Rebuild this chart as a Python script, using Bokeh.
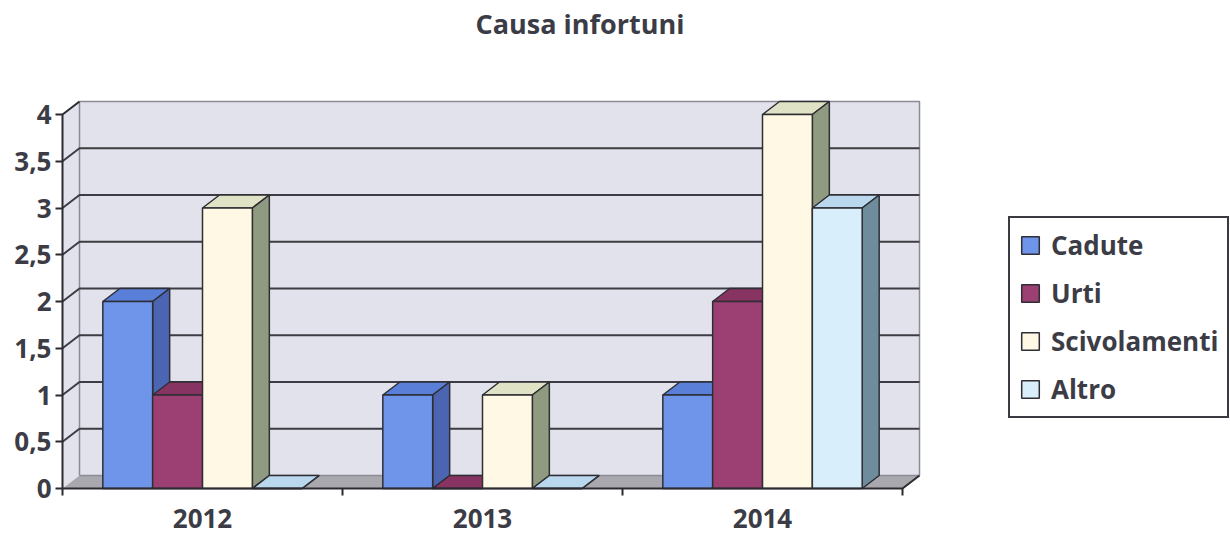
from bokeh.plotting import figure
from bokeh.models import Range1d, FixedTicker, Legend, LegendItem, Title
from bokeh.embed import file_html
from bokeh.resources import INLINE

# ---- data ----
categories = ["2012", "2013", "2014"]
series = ["Cadute", "Urti", "Scivolamenti", "Altro"]
cadute = [2, 1, 1]
urti = [1, 0, 2]
scivolamenti = [3, 1, 4]
altro = [0, 0, 3]
y_ticks = [0, 0.5, 1, 1.5, 2, 2.5, 3, 3.5, 4]
y_tick_labels = ["0", "0,5", "1", "1,5", "2", "2,5", "3", "3,5", "4"]
title_text = "Causa infortuni"

values = [cadute, urti, scivolamenti, altro]

# ---- styles ----
front_colors = ["#6e95ea", "#9c4074", "#fff8e4", "#d8eefa"]
top_colors = ["#5a7fd8", "#883463", "#dfe2c4", "#b9d8ee"]
side_colors = ["#4b65b2", "#6c2a50", "#8f9a80", "#6f8c9c"]
EDGE = "#2e2e34"
TEXT = "#3c3c46"
FONT = "Open Sans"

PXX = 280.0   # pixels per category
PXY = 93.5    # pixels per unit
DX = 17 / PXX
DY = 13 / PXY
PADL = 3 / PXX
PADR = 3 / PXX
PADB = 2 / PXY
PADT = 3 / PXY
YMAX = 4.0
n = len(categories)
BW = 0.178

fw = int(round((n + DX + PADL + PADR) * PXX))
fh = int(round((YMAX + DY + PADB + PADT) * PXY))

p = figure(title=None, frame_width=fw, frame_height=fh,
           x_range=Range1d(-PADL, n + DX + PADR),
           y_range=Range1d(-PADB, YMAX + DY + PADT),
           output_backend="svg", toolbar_location=None,
           min_border_left=59, min_border_right=1230 - 59 - fw,
           min_border_top=98, min_border_bottom=539 - 98 - fh)
p.outline_line_color = None
p.xgrid.visible = False
p.ygrid.visible = False
p.background_fill_color = "white"
p.border_fill_color = "white"

# ---- walls ----
p.patch([0, 0, DX, n + DX, n + DX, DX], [0, YMAX, YMAX + DY, YMAX + DY, DY, DY],
        fill_color="#e2e2ec", line_color=None)
p.patch([0, n, n + DX, DX], [0, 0, DY, DY], fill_color="#a8a8ae", line_color=None)
# wall edges
p.multi_line([[DX, DX], [DX, n + DX, n + DX], [DX, n + DX]],
             [[DY, YMAX + DY], [YMAX + DY, YMAX + DY, DY], [DY, DY]],
             line_color="#8c8c94", line_width=1.5)
# gridlines
gx, gy = [], []
for v in y_ticks[1:-1]:
    gx.append([0, DX, n + DX])
    gy.append([v, v + DY, v + DY])
p.multi_line(gx, gy, line_color="#3c3c42", line_width=2)

# ---- bars ----
items = []
for j, name in enumerate(series):
    fx, fy, tx, ty, sx, sy = [], [], [], [], [], []
    for i in range(n):
        h = values[j][i]
        x0 = i + 0.5 + (j - 2) * BW
        x1 = x0 + BW
        fx.append([x0, x1, x1, x0]); fy.append([0, 0, h, h])
        tx.append([x0, x1, x1 + DX, x0 + DX]); ty.append([h, h, h + DY, h + DY])
        sx.append([x1, x1 + DX, x1 + DX, x1]); sy.append([0, DY, h + DY, h])
    p.patches(tx, ty, fill_color=top_colors[j], line_color=EDGE, line_width=1.5)
    p.patches(sx, sy, fill_color=side_colors[j], line_color=EDGE, line_width=1.5)
    r = p.patches(fx, fy, fill_color=front_colors[j], line_color=EDGE, line_width=1.5)
    items.append(LegendItem(label=name, renderers=[r]))

# ---- axis lines ----
p.line([0, 0, DX], [0, YMAX, YMAX + DY], line_color="#2a2a30", line_width=2)
p.line([0, n, n + DX], [0, 0, DY], line_color="#2a2a30", line_width=2)

# ---- axes ----
cat_centers = [i + 0.5 for i in range(n)]
p.xaxis.ticker = FixedTicker(ticks=cat_centers, minor_ticks=list(range(n + 1)))
p.xaxis.major_label_overrides = {c: lab for c, lab in zip(cat_centers, categories)}
p.xaxis.axis_line_color = None
p.xaxis.major_tick_out = 0
p.xaxis.major_tick_in = 0
p.xaxis.minor_tick_out = 5
p.xaxis.minor_tick_in = 2
p.xaxis.minor_tick_line_color = "#2a2a30"
p.xaxis.minor_tick_line_width = 2
p.xaxis.major_label_standoff = 13
p.xaxis.major_label_text_font = FONT
p.xaxis.major_label_text_font_style = "bold"
p.xaxis.major_label_text_font_size = "26px"
p.xaxis.major_label_text_color = TEXT

p.yaxis.ticker = FixedTicker(ticks=y_ticks)
p.yaxis.major_label_overrides = {t: lab for t, lab in zip(y_ticks, y_tick_labels)}
p.yaxis.axis_line_color = None
p.yaxis.major_tick_out = 4
p.yaxis.major_tick_in = 3
p.yaxis.major_tick_line_color = "#2a2a30"
p.yaxis.major_tick_line_width = 2
p.yaxis.minor_tick_line_color = None
p.yaxis.major_label_standoff = 4
p.yaxis.major_label_text_font = FONT
p.yaxis.major_label_text_font_style = "bold"
p.yaxis.major_label_text_font_size = "26px"
p.yaxis.major_label_text_color = TEXT

# ---- title: spacer first (nearest the plot), then the real title on top ----
spacer = Title(text=" ", text_font=FONT, text_font_size="10px", standoff=35)
p.add_layout(spacer, "above")
main_title = Title(text=title_text, text_font=FONT, text_font_style="bold",
                   text_font_size="27px", text_color=TEXT, align="left",
                   offset=416, vertical_align="top", standoff=8)
p.add_layout(main_title, "above")

# ---- legend ----
legend = Legend(items=items, location=(86, 72))
legend.margin = 0
legend.padding = 9
legend.spacing = 12
legend.label_height = 24
legend.label_width = 150
legend.glyph_height = 22
legend.glyph_width = 22
legend.label_standoff = 10
legend.label_text_font = FONT
legend.label_text_font_style = "bold"
legend.label_text_font_size = "26px"
legend.label_text_color = TEXT
legend.border_line_color = "#3a3a40"
legend.border_line_width = 2
legend.border_line_alpha = 1.0
legend.background_fill_color = "white"
legend.background_fill_alpha = 1.0
p.add_layout(legend, "right")

open("out.html", "w").write(file_html(p, INLINE))
